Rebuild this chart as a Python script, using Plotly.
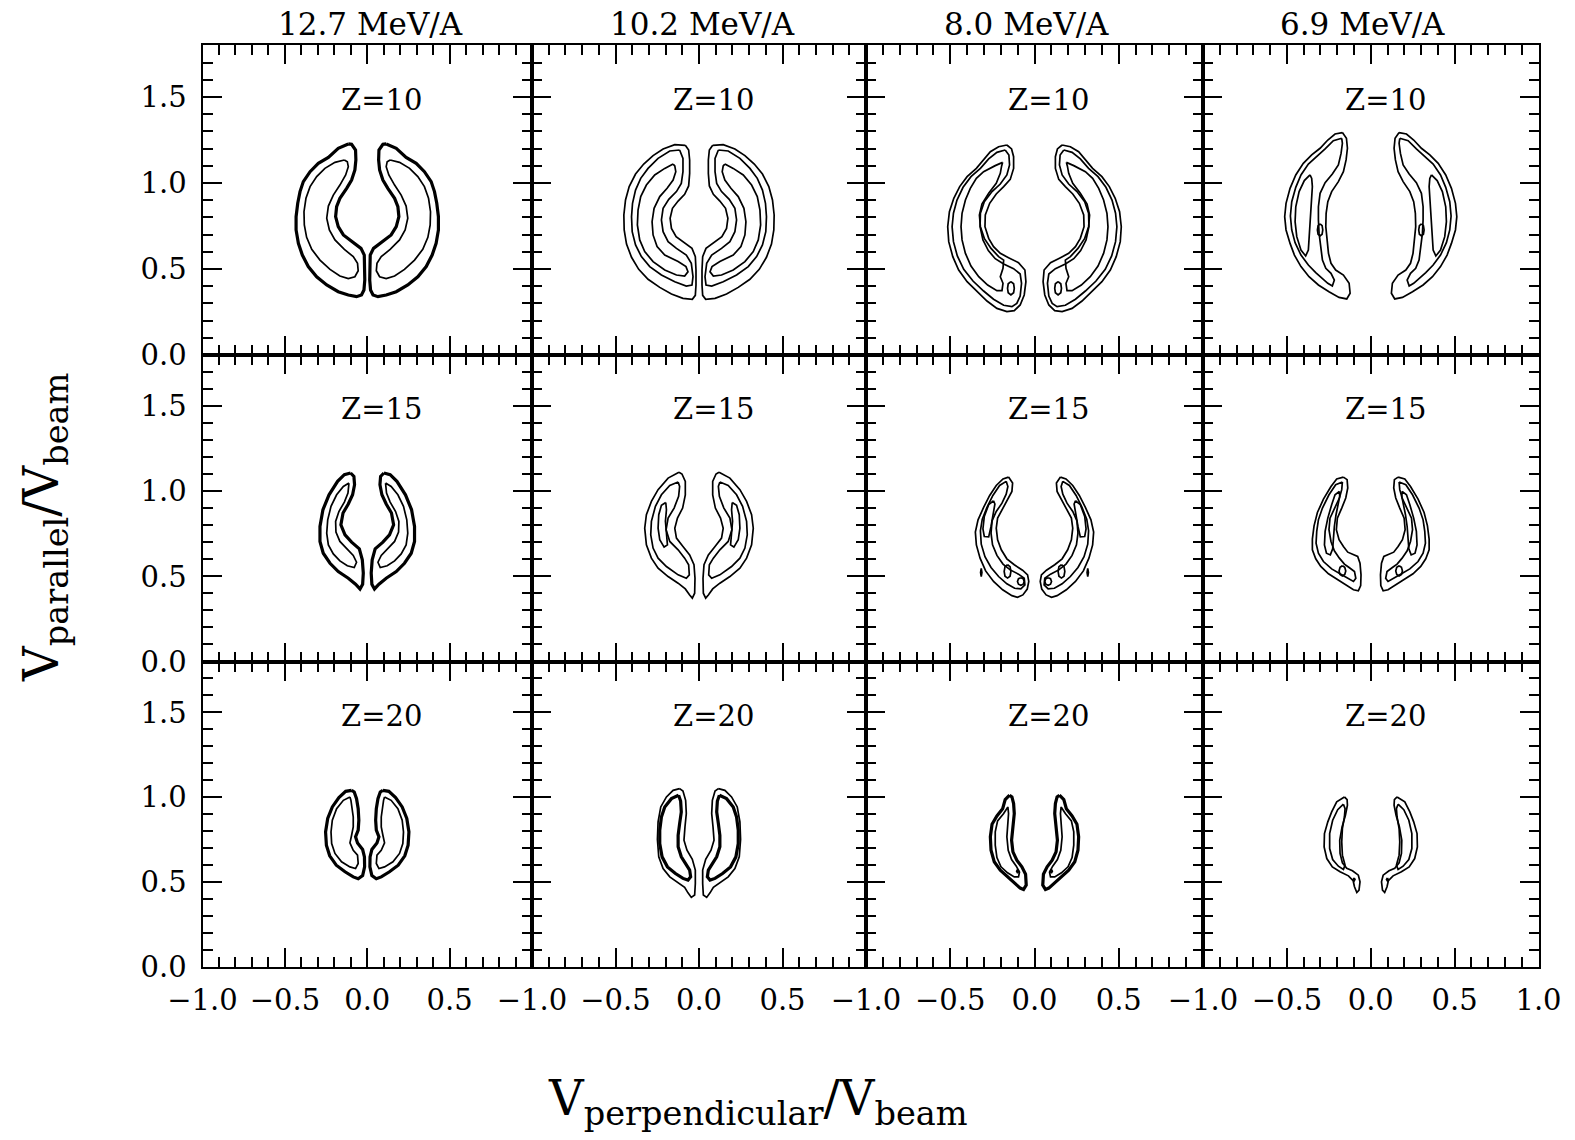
import plotly.graph_objects as go

# ---------------------------------------------------------------------------
# Panel labels
# ---------------------------------------------------------------------------
BEAM_ENERGIES = ["12.7 MeV/A", "10.2 MeV/A", "8.0 MeV/A", "6.9 MeV/A"]
CHARGES = ["Z=10", "Z=15", "Z=20"]

X_TICKS = [-1.0, -0.5, 0.0, 0.5, 1.0]
Y_TICKS = [0.0, 0.5, 1.0, 1.5]

# ---------------------------------------------------------------------------
# Invariant-cross-section contours, (V_perp/V_beam, V_par/V_beam).
# The distributions are symmetric in V_perp, so each ring is listed for the
# V_perp > 0 lobe; the V_perp < 0 lobe is its reflection.
# ---------------------------------------------------------------------------

# 12.7 MeV/A, Z=10
E127_Z10_OUTER = [(0.115, 1.227), (0.176, 1.202), (0.236, 1.149), (0.297, 1.114), (0.347, 1.066),
                  (0.388, 1.008), (0.408, 0.950), (0.422, 0.882), (0.432, 0.804), (0.432, 0.727),
                  (0.418, 0.649), (0.394, 0.581), (0.358, 0.514), (0.307, 0.455), (0.246, 0.407),
                  (0.176, 0.368), (0.115, 0.349), (0.065, 0.339), (0.035, 0.349), (0.020, 0.378),
                  (0.015, 0.436), (0.014, 0.514), (0.018, 0.581), (0.038, 0.620), (0.095, 0.659),
                  (0.145, 0.698), (0.176, 0.746), (0.192, 0.804), (0.186, 0.862), (0.166, 0.911),
                  (0.125, 0.969), (0.095, 1.017), (0.075, 1.076), (0.069, 1.134), (0.071, 1.192),
                  (0.095, 1.225)]
E127_Z10_INNER = [(0.139, 1.134), (0.196, 1.120), (0.257, 1.085), (0.307, 1.037), (0.347, 0.979),
                  (0.372, 0.911), (0.384, 0.833), (0.382, 0.756), (0.368, 0.684), (0.337, 0.614),
                  (0.287, 0.552), (0.226, 0.498), (0.166, 0.459), (0.115, 0.444), (0.075, 0.455),
                  (0.055, 0.490), (0.059, 0.533), (0.085, 0.572), (0.139, 0.614), (0.196, 0.669),
                  (0.230, 0.727), (0.246, 0.795), (0.236, 0.866), (0.206, 0.930), (0.166, 0.988),
                  (0.131, 1.047), (0.115, 1.095), (0.121, 1.124)]

# 10.2 MeV/A, Z=10
E102_Z10_OUTER = [(0.082, 1.219), (0.145, 1.223), (0.215, 1.198), (0.275, 1.159), (0.331, 1.110),
                  (0.380, 1.052), (0.418, 0.979), (0.440, 0.901), (0.450, 0.814), (0.448, 0.727),
                  (0.434, 0.645), (0.404, 0.568), (0.361, 0.498), (0.305, 0.440), (0.235, 0.393),
                  (0.165, 0.355), (0.096, 0.329), (0.040, 0.324), (0.022, 0.347), (0.018, 0.407),
                  (0.018, 0.494), (0.022, 0.572), (0.042, 0.620), (0.090, 0.655), (0.137, 0.688),
                  (0.165, 0.736), (0.173, 0.795), (0.159, 0.853), (0.125, 0.895), (0.086, 0.934),
                  (0.062, 0.983), (0.056, 1.056), (0.056, 1.134), (0.062, 1.192)]
E102_Z10_MID = [(0.116, 1.192), (0.175, 1.186), (0.245, 1.143), (0.305, 1.085), (0.349, 1.027),
                (0.380, 0.959), (0.398, 0.882), (0.404, 0.804), (0.400, 0.717), (0.380, 0.640),
                (0.345, 0.572), (0.295, 0.514), (0.225, 0.465), (0.145, 0.426), (0.076, 0.401),
                (0.042, 0.407), (0.036, 0.455), (0.046, 0.533), (0.076, 0.581), (0.135, 0.620),
                (0.185, 0.659), (0.215, 0.717), (0.225, 0.785), (0.215, 0.853), (0.181, 0.905),
                (0.135, 0.950), (0.106, 0.998), (0.096, 1.066), (0.096, 1.143)]
E102_Z10_INNER = [(0.155, 1.110), (0.205, 1.085), (0.265, 1.047), (0.315, 0.988), (0.349, 0.921),
                  (0.365, 0.843), (0.369, 0.756), (0.355, 0.669), (0.325, 0.601), (0.275, 0.543),
                  (0.205, 0.494), (0.135, 0.465), (0.086, 0.459), (0.066, 0.484), (0.078, 0.514),
                  (0.125, 0.543), (0.205, 0.581), (0.251, 0.630), (0.275, 0.698), (0.281, 0.775),
                  (0.269, 0.853), (0.235, 0.921), (0.191, 0.969), (0.155, 1.017), (0.139, 1.066),
                  (0.145, 1.099)]

# 8.0 MeV/A, Z=10
E80_Z10_OUTER = [(0.164, 1.221), (0.213, 1.211), (0.262, 1.182), (0.302, 1.134), (0.345, 1.085),
                 (0.400, 1.037), (0.444, 0.979), (0.479, 0.911), (0.505, 0.833), (0.515, 0.746),
                 (0.509, 0.659), (0.485, 0.572), (0.450, 0.494), (0.400, 0.426), (0.341, 0.368),
                 (0.282, 0.314), (0.223, 0.271), (0.164, 0.252), (0.120, 0.258), (0.085, 0.291),
                 (0.061, 0.349), (0.051, 0.426), (0.057, 0.494), (0.095, 0.537), (0.154, 0.566),
                 (0.203, 0.591), (0.243, 0.630), (0.272, 0.678), (0.294, 0.746), (0.292, 0.814),
                 (0.266, 0.882), (0.227, 0.936), (0.183, 0.979), (0.144, 1.021), (0.124, 1.085),
                 (0.124, 1.153), (0.136, 1.198)]
E80_Z10_MID = [(0.174, 1.192), (0.223, 1.178), (0.272, 1.140), (0.321, 1.085), (0.377, 1.037),
               (0.424, 0.975), (0.460, 0.901), (0.481, 0.824), (0.489, 0.746), (0.481, 0.659),
               (0.458, 0.576), (0.420, 0.498), (0.365, 0.430), (0.302, 0.372), (0.243, 0.324),
               (0.183, 0.289), (0.134, 0.281), (0.105, 0.300), (0.085, 0.343), (0.077, 0.417),
               (0.085, 0.471), (0.124, 0.502), (0.183, 0.529), (0.233, 0.560), (0.274, 0.607),
               (0.306, 0.669), (0.323, 0.746), (0.321, 0.824), (0.298, 0.891), (0.252, 0.950),
               (0.203, 0.994), (0.164, 1.047), (0.148, 1.105), (0.152, 1.163)]
E80_Z10_INNER = [(0.189, 1.120), (0.233, 1.101), (0.302, 1.066), (0.345, 1.027), (0.381, 0.969),
                 (0.410, 0.901), (0.430, 0.824), (0.436, 0.746), (0.430, 0.669), (0.410, 0.591),
                 (0.377, 0.517), (0.331, 0.455), (0.278, 0.407), (0.223, 0.374), (0.193, 0.374),
                 (0.187, 0.417), (0.203, 0.455), (0.187, 0.504), (0.183, 0.552), (0.213, 0.572),
                 (0.258, 0.620), (0.298, 0.678), (0.321, 0.746), (0.327, 0.814), (0.312, 0.878),
                 (0.272, 0.940), (0.227, 0.998), (0.203, 1.056), (0.195, 1.099)]
E80_Z10_PEAK = [(0.140, 0.427), (0.156, 0.414), (0.160, 0.388), (0.156, 0.362), (0.140, 0.349),
                (0.124, 0.362), (0.120, 0.388), (0.124, 0.414)]

# 6.9 MeV/A, Z=10
E69_Z10_OUTER = [(0.169, 1.293), (0.213, 1.285), (0.256, 1.250), (0.302, 1.202), (0.352, 1.163),
                 (0.402, 1.114), (0.447, 1.047), (0.481, 0.969), (0.505, 0.882), (0.513, 0.804),
                 (0.505, 0.727), (0.481, 0.649), (0.455, 0.581), (0.416, 0.514), (0.368, 0.455),
                 (0.312, 0.407), (0.249, 0.368), (0.189, 0.335), (0.143, 0.326), (0.123, 0.359),
                 (0.129, 0.417), (0.163, 0.465), (0.209, 0.494), (0.237, 0.533), (0.252, 0.591),
                 (0.262, 0.669), (0.268, 0.746), (0.266, 0.824), (0.256, 0.891), (0.233, 0.950),
                 (0.193, 1.008), (0.163, 1.066), (0.147, 1.134), (0.139, 1.202), (0.145, 1.260)]
E69_Z10_MID = [(0.173, 1.260), (0.223, 1.246), (0.272, 1.198), (0.322, 1.153), (0.372, 1.110),
               (0.416, 1.047), (0.447, 0.975), (0.471, 0.891), (0.479, 0.808), (0.471, 0.727),
               (0.451, 0.653), (0.416, 0.581), (0.372, 0.523), (0.328, 0.479), (0.292, 0.446),
               (0.256, 0.417), (0.229, 0.401), (0.217, 0.436), (0.237, 0.475), (0.268, 0.504),
               (0.288, 0.552), (0.300, 0.630), (0.308, 0.707), (0.312, 0.785), (0.312, 0.862),
               (0.302, 0.940), (0.272, 1.002), (0.229, 1.052), (0.193, 1.105), (0.177, 1.172),
               (0.169, 1.231)]
E69_Z10_INNER = [(0.362, 1.047), (0.396, 1.014), (0.427, 0.950), (0.447, 0.862), (0.451, 0.775),
                 (0.441, 0.688), (0.416, 0.610), (0.388, 0.576), (0.372, 0.610), (0.366, 0.698),
                 (0.360, 0.795), (0.352, 0.891), (0.348, 0.979), (0.352, 1.027)]
E69_Z10_PEAK = [(0.302, 0.762), (0.314, 0.752), (0.318, 0.727), (0.314, 0.702), (0.302, 0.692),
                (0.290, 0.702), (0.286, 0.727), (0.290, 0.752)]

# 12.7 MeV/A, Z=15
E127_Z15_OUTER = [(0.101, 1.107), (0.139, 1.097), (0.180, 1.058), (0.232, 0.979), (0.269, 0.891),
                  (0.287, 0.793), (0.287, 0.705), (0.267, 0.636), (0.226, 0.577), (0.176, 0.528),
                  (0.115, 0.489), (0.071, 0.454), (0.044, 0.426), (0.028, 0.454), (0.024, 0.519),
                  (0.030, 0.597), (0.048, 0.662), (0.095, 0.701), (0.135, 0.744), (0.160, 0.803),
                  (0.147, 0.872), (0.115, 0.925), (0.089, 0.979), (0.077, 1.038), (0.081, 1.087)]
E127_Z15_INNER = [(0.111, 1.048), (0.145, 1.028), (0.186, 0.979), (0.220, 0.911), (0.240, 0.832),
                  (0.246, 0.754), (0.236, 0.685), (0.206, 0.632), (0.166, 0.591), (0.121, 0.562),
                  (0.079, 0.552), (0.065, 0.583), (0.085, 0.623), (0.125, 0.662), (0.166, 0.705),
                  (0.190, 0.760), (0.192, 0.823), (0.172, 0.881), (0.139, 0.936), (0.117, 0.989),
                  (0.111, 1.038)]

# 10.2 MeV/A, Z=15
E102_Z15_OUTER = [(0.120, 1.111), (0.185, 1.077), (0.245, 1.009), (0.285, 0.940), (0.315, 0.862),
                  (0.325, 0.783), (0.315, 0.685), (0.285, 0.607), (0.245, 0.548), (0.185, 0.499),
                  (0.125, 0.460), (0.082, 0.426), (0.056, 0.391), (0.040, 0.372), (0.026, 0.401),
                  (0.024, 0.489), (0.030, 0.568), (0.056, 0.626), (0.096, 0.675), (0.135, 0.725),
                  (0.145, 0.783), (0.129, 0.842), (0.098, 0.901), (0.082, 0.979), (0.082, 1.058),
                  (0.102, 1.101)]
E102_Z15_MID = [(0.125, 1.054), (0.175, 1.034), (0.225, 0.979), (0.261, 0.911), (0.285, 0.823),
                (0.289, 0.744), (0.275, 0.666), (0.245, 0.607), (0.195, 0.558), (0.125, 0.509),
                (0.076, 0.489), (0.058, 0.509), (0.062, 0.568), (0.086, 0.607), (0.125, 0.656),
                (0.175, 0.705), (0.197, 0.774), (0.185, 0.842), (0.149, 0.901), (0.122, 0.970),
                (0.116, 1.028)]
E102_Z15_INNER = [(0.199, 0.934), (0.225, 0.917), (0.241, 0.862), (0.245, 0.783), (0.235, 0.715),
                  (0.209, 0.672), (0.189, 0.685), (0.195, 0.744), (0.201, 0.823), (0.195, 0.891)]

# 8.0 MeV/A, Z=15
E80_Z15_OUTER = [(0.154, 1.083), (0.187, 1.072), (0.227, 1.034), (0.266, 0.975), (0.302, 0.905),
                 (0.335, 0.832), (0.351, 0.760), (0.345, 0.685), (0.323, 0.607), (0.290, 0.532),
                 (0.243, 0.470), (0.189, 0.421), (0.134, 0.387), (0.101, 0.377), (0.069, 0.391),
                 (0.043, 0.425), (0.034, 0.470), (0.041, 0.509), (0.071, 0.536), (0.120, 0.568),
                 (0.164, 0.603), (0.197, 0.656), (0.219, 0.715), (0.227, 0.783), (0.219, 0.842),
                 (0.193, 0.891), (0.160, 0.944), (0.134, 0.999), (0.130, 1.048)]
E80_Z15_MID = [(0.168, 1.058), (0.207, 1.034), (0.247, 0.975), (0.282, 0.905), (0.310, 0.836),
               (0.321, 0.768), (0.316, 0.689), (0.294, 0.615), (0.258, 0.552), (0.213, 0.499),
               (0.164, 0.456), (0.118, 0.430), (0.081, 0.426), (0.057, 0.450), (0.061, 0.489),
               (0.095, 0.513), (0.144, 0.538), (0.187, 0.572), (0.223, 0.623), (0.249, 0.685),
               (0.258, 0.754), (0.252, 0.826), (0.227, 0.881), (0.193, 0.930), (0.168, 0.983),
               (0.158, 1.028)]
E80_Z15_INNER = [(0.243, 0.944), (0.272, 0.921), (0.298, 0.852), (0.306, 0.779), (0.298, 0.734),
                 (0.272, 0.732), (0.258, 0.793), (0.243, 0.872), (0.235, 0.925)]
E80_Z15_PEAK_A = [(0.160, 0.568), (0.175, 0.557), (0.180, 0.529), (0.175, 0.501), (0.160, 0.490),
                  (0.145, 0.501), (0.140, 0.529), (0.145, 0.557)]
E80_Z15_PEAK_B = [(0.081, 0.492), (0.095, 0.486), (0.101, 0.470), (0.095, 0.454), (0.081, 0.448),
                  (0.067, 0.454), (0.061, 0.470), (0.067, 0.486)]
E80_Z15_ISLET = [(0.316, 0.547), (0.320, 0.523), (0.316, 0.499), (0.312, 0.523)]

# 6.9 MeV/A, Z=15
E69_Z15_OUTER = [(0.163, 1.083), (0.203, 1.072), (0.237, 1.028), (0.282, 0.954), (0.318, 0.875),
                 (0.338, 0.797), (0.348, 0.719), (0.348, 0.656), (0.328, 0.603), (0.298, 0.558),
                 (0.252, 0.515), (0.199, 0.481), (0.143, 0.450), (0.103, 0.421), (0.074, 0.415),
                 (0.060, 0.446), (0.058, 0.509), (0.064, 0.577), (0.078, 0.617), (0.109, 0.630),
                 (0.137, 0.642), (0.163, 0.675), (0.189, 0.715), (0.205, 0.774), (0.199, 0.842),
                 (0.173, 0.901), (0.149, 0.960), (0.137, 1.019), (0.141, 1.068)]
E69_Z15_MID = [(0.169, 1.054), (0.209, 1.038), (0.249, 0.979), (0.288, 0.901), (0.312, 0.832),
               (0.322, 0.764), (0.326, 0.695), (0.312, 0.636), (0.282, 0.587), (0.233, 0.544),
               (0.173, 0.509), (0.133, 0.489), (0.103, 0.470), (0.089, 0.489), (0.097, 0.528),
               (0.129, 0.552), (0.157, 0.572), (0.187, 0.607), (0.217, 0.650), (0.237, 0.705),
               (0.249, 0.774), (0.243, 0.842), (0.213, 0.901), (0.187, 0.960), (0.173, 1.009)]
E69_Z15_INNER = [(0.187, 0.999), (0.213, 0.979), (0.233, 0.921), (0.256, 0.842), (0.272, 0.764),
                 (0.276, 0.685), (0.264, 0.636), (0.241, 0.626), (0.227, 0.662), (0.223, 0.725),
                 (0.217, 0.793), (0.207, 0.862), (0.195, 0.926), (0.185, 0.970)]
E69_Z15_PEAK = [(0.169, 0.562), (0.183, 0.553), (0.189, 0.532), (0.183, 0.511), (0.169, 0.502),
                (0.155, 0.511), (0.149, 0.532), (0.155, 0.553)]

# 12.7 MeV/A, Z=20
E127_Z20_OUTER = [(0.095, 1.041), (0.131, 1.035), (0.172, 0.998), (0.212, 0.943), (0.240, 0.875),
                  (0.253, 0.796), (0.248, 0.718), (0.228, 0.655), (0.188, 0.600), (0.135, 0.561),
                  (0.085, 0.531), (0.055, 0.520), (0.028, 0.539), (0.016, 0.590), (0.017, 0.649),
                  (0.028, 0.692), (0.059, 0.731), (0.071, 0.767), (0.055, 0.806), (0.051, 0.865),
                  (0.055, 0.933), (0.065, 0.992), (0.079, 1.031)]
E127_Z20_INNER = [(0.105, 1.002), (0.145, 0.982), (0.186, 0.933), (0.212, 0.865), (0.220, 0.796),
                  (0.216, 0.727), (0.196, 0.669), (0.156, 0.620), (0.105, 0.590), (0.071, 0.580),
                  (0.055, 0.610), (0.059, 0.659), (0.085, 0.688), (0.105, 0.731), (0.095, 0.776),
                  (0.085, 0.825), (0.085, 0.884), (0.091, 0.943), (0.099, 0.982)]

# 10.2 MeV/A, Z=20
E102_Z20_OUTER = [(0.116, 1.051), (0.155, 1.041), (0.195, 1.002), (0.229, 0.943), (0.245, 0.855),
                  (0.249, 0.751), (0.241, 0.649), (0.215, 0.580), (0.175, 0.531), (0.122, 0.492),
                  (0.086, 0.469), (0.066, 0.437), (0.046, 0.410), (0.026, 0.424), (0.022, 0.492),
                  (0.022, 0.571), (0.040, 0.635), (0.072, 0.688), (0.090, 0.747), (0.084, 0.825),
                  (0.076, 0.904), (0.080, 0.982), (0.096, 1.037)]
E102_Z20_MID = [(0.122, 1.012), (0.165, 0.992), (0.205, 0.943), (0.225, 0.884), (0.235, 0.806),
                (0.235, 0.727), (0.221, 0.649), (0.189, 0.590), (0.141, 0.551), (0.096, 0.522),
                (0.066, 0.512), (0.050, 0.531), (0.056, 0.571), (0.076, 0.606), (0.106, 0.649),
                (0.125, 0.708), (0.125, 0.776), (0.116, 0.845), (0.106, 0.914), (0.110, 0.978)]

# 8.0 MeV/A, Z=20
E80_Z20_OUTER = [(0.148, 1.012), (0.174, 0.986), (0.189, 0.933), (0.223, 0.890), (0.252, 0.841),
                 (0.262, 0.767), (0.258, 0.688), (0.239, 0.620), (0.203, 0.571), (0.154, 0.527),
                 (0.114, 0.492), (0.085, 0.465), (0.065, 0.457), (0.049, 0.482), (0.053, 0.547),
                 (0.075, 0.590), (0.105, 0.629), (0.128, 0.678), (0.136, 0.747), (0.126, 0.825),
                 (0.120, 0.904), (0.124, 0.963), (0.134, 1.002)]
E80_Z20_INNER = [(0.158, 0.943), (0.183, 0.904), (0.219, 0.861), (0.233, 0.796), (0.233, 0.718),
                 (0.223, 0.645), (0.199, 0.590), (0.160, 0.555), (0.120, 0.531), (0.095, 0.531),
                 (0.089, 0.559), (0.108, 0.594), (0.136, 0.633), (0.156, 0.688), (0.164, 0.767),
                 (0.158, 0.845), (0.154, 0.904)]
E80_Z20_PEAK = [(0.100, 0.575), (0.106, 0.564), (0.100, 0.553), (0.094, 0.564)]

# 6.9 MeV/A, Z=20
E69_Z20_OUTER = [(0.157, 1.002), (0.203, 0.973), (0.233, 0.914), (0.256, 0.855), (0.276, 0.786),
                 (0.278, 0.708), (0.262, 0.639), (0.229, 0.590), (0.183, 0.561), (0.133, 0.537),
                 (0.105, 0.508), (0.097, 0.473), (0.083, 0.439), (0.070, 0.453), (0.064, 0.502),
                 (0.074, 0.541), (0.109, 0.567), (0.143, 0.582), (0.169, 0.614), (0.183, 0.669),
                 (0.185, 0.747), (0.171, 0.825), (0.151, 0.894), (0.139, 0.953), (0.141, 0.986)]
E69_Z20_INNER = [(0.163, 0.959), (0.197, 0.927), (0.227, 0.865), (0.245, 0.786), (0.245, 0.698),
                 (0.227, 0.633), (0.193, 0.594), (0.163, 0.575), (0.153, 0.600), (0.169, 0.659),
                 (0.173, 0.737), (0.169, 0.816), (0.157, 0.884), (0.153, 0.933)]
E69_Z20_PEAK = [(0.099, 0.524), (0.104, 0.516), (0.099, 0.508), (0.094, 0.516)]

# ---------------------------------------------------------------------------
# Styling / layout
# ---------------------------------------------------------------------------
W, H = 1575, 1140
FONT = "DejaVu Serif"
THIN, BOLD = 1.7, 3.2

# Panel rectangles in pixels (left, right) / (top, bottom)
COL_PX = [(202.5, 532.0), (532.0, 866.0), (866.0, 1203.0), (1203.0, 1538.5)]
ROW_PX = [(45.4, 355.0), (355.0, 661.5), (661.5, 967.0)]
TITLE_X_PX = [370, 702, 1026, 1362]

# rings per panel: (ring, line width)
PANELS = [
    [[(E127_Z10_OUTER, BOLD), (E127_Z10_INNER, THIN)],
     [(E102_Z10_OUTER, THIN), (E102_Z10_MID, THIN), (E102_Z10_INNER, THIN)],
     [(E80_Z10_OUTER, THIN), (E80_Z10_MID, THIN), (E80_Z10_INNER, THIN), (E80_Z10_PEAK, THIN)],
     [(E69_Z10_OUTER, THIN), (E69_Z10_MID, THIN), (E69_Z10_INNER, THIN), (E69_Z10_PEAK, THIN)]],
    [[(E127_Z15_OUTER, BOLD), (E127_Z15_INNER, THIN)],
     [(E102_Z15_OUTER, THIN), (E102_Z15_MID, THIN), (E102_Z15_INNER, THIN)],
     [(E80_Z15_OUTER, THIN), (E80_Z15_MID, THIN), (E80_Z15_INNER, THIN),
      (E80_Z15_PEAK_A, THIN), (E80_Z15_PEAK_B, THIN), (E80_Z15_ISLET, THIN)],
     [(E69_Z15_OUTER, THIN), (E69_Z15_MID, THIN), (E69_Z15_INNER, THIN), (E69_Z15_PEAK, THIN)]],
    [[(E127_Z20_OUTER, BOLD), (E127_Z20_INNER, THIN)],
     [(E102_Z20_OUTER, THIN), (E102_Z20_MID, BOLD)],
     [(E80_Z20_OUTER, BOLD), (E80_Z20_INNER, THIN), (E80_Z20_PEAK, THIN)],
     [(E69_Z20_OUTER, THIN), (E69_Z20_INNER, THIN), (E69_Z20_PEAK, THIN)]],
]


def ring_pair(ring):
    """Closed ring for the V_perp>0 lobe plus its mirror image."""
    pts = list(ring)
    if pts[0] != pts[-1]:
        pts.append(pts[0])
    xs = [p[0] for p in pts] + [None] + [-p[0] for p in pts] + [None]
    ys = [p[1] for p in pts] + [None] + [p[1] for p in pts] + [None]
    return xs, ys


def fmt(v):
    return f"{v:.1f}".replace("-", "\u2212")


fig = go.Figure()
layout = {}

for r in range(3):
    for c in range(4):
        k = r * 4 + c + 1
        sx = "" if k == 1 else str(k)
        xref, yref = "x" + sx, "y" + sx

        by_width = {}
        for ring, width in PANELS[r][c]:
            xs, ys = ring_pair(ring)
            bx, byy = by_width.setdefault(width, ([], []))
            bx.extend(xs)
            byy.extend(ys)
        for width, (xs, ys) in by_width.items():
            fig.add_trace(go.Scatter(
                x=xs, y=ys, mode="lines", xaxis=xref, yaxis=yref,
                line=dict(color="black", width=width),
                hoverinfo="skip", showlegend=False))

        x0, x1 = COL_PX[c]
        y0, y1 = ROW_PX[r]
        tick_common = dict(
            showline=True, linecolor="black", linewidth=2, mirror="allticks",
            ticks="inside", ticklen=19, tickwidth=1.8, tickcolor="black",
            showgrid=False, zeroline=False, fixedrange=True, automargin=False,
            minor=dict(ticks="inside", ticklen=10, tickwidth=1.5, tickcolor="black",
                       tick0=0, dtick=0.1, showgrid=False),
        )
        # the 1.0 label of each inner column is left to the next panel's -1.0
        xvals = X_TICKS if c == 3 else X_TICKS[:-1]
        layout["xaxis" + sx] = dict(
            tick_common, domain=[x0 / W, x1 / W], range=[-1, 1], anchor=yref,
            tickmode="array", tickvals=xvals, ticktext=[fmt(v) for v in xvals],
            tickfont=dict(family=FONT, size=29, color="black"),
            showticklabels=(r == 2), ticklabelstandoff=6)
        layout["yaxis" + sx] = dict(
            tick_common, domain=[1 - y1 / H, 1 - y0 / H], range=[0, 1.8], anchor=xref,
            tickmode="array", tickvals=Y_TICKS, ticktext=[fmt(v) for v in Y_TICKS],
            tickfont=dict(family=FONT, size=29, color="black"),
            showticklabels=(c == 0), ticklabelstandoff=8)

annotations = []
for c, label in enumerate(BEAM_ENERGIES):
    annotations.append(dict(
        text=label, xref="paper", yref="paper", x=TITLE_X_PX[c] / W, y=1 - 24 / H,
        xanchor="center", yanchor="middle", showarrow=False,
        font=dict(family=FONT, size=31, color="black")))
for r, label in enumerate(CHARGES):
    for c in range(4):
        k = r * 4 + c + 1
        sx = "" if k == 1 else str(k)
        annotations.append(dict(
            text=label, xref="x" + sx, yref="y" + sx, x=0.085, y=1.48,
            xanchor="center", yanchor="middle", showarrow=False,
            font=dict(family=FONT, size=29, color="black")))

annotations.append(dict(
    text="V<sub>perpendicular</sub>/V<sub>beam</sub>", xref="paper", yref="paper",
    x=758 / W, y=1 - 1101 / H, xanchor="center", yanchor="middle", showarrow=False,
    font=dict(family=FONT, size=48, color="black")))
annotations.append(dict(
    text="V<sub>parallel</sub>/V<sub>beam</sub>", xref="paper", yref="paper",
    x=44 / W, y=1 - 528 / H, xanchor="center", yanchor="middle", showarrow=False,
    textangle=-90, font=dict(family=FONT, size=48, color="black")))

fig.update_layout(
    width=W, height=H,
    margin=dict(l=0, r=0, t=0, b=0, pad=0, autoexpand=False),
    paper_bgcolor="white", plot_bgcolor="white", showlegend=False,
    annotations=annotations, **layout)

fig.write_html("out.html")
